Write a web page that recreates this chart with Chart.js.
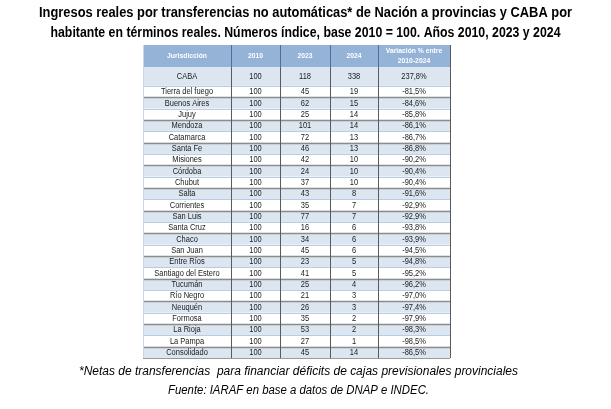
<!DOCTYPE html>
<html>
<head>
<meta charset="utf-8">
<script src="https://cdn.jsdelivr.net/npm/chart.js@4.4.1/dist/chart.umd.min.js"></script>
<style>html,body{margin:0;padding:0;background:#fff}</style>
</head>
<body>
<canvas id="tabla" width="611" height="409"></canvas>
<script>
const jurisdicciones = ['CABA', 'Tierra del fuego', 'Buenos Aires', 'Jujuy', 'Mendoza', 'Catamarca', 'Santa Fe',
    'Misiones', 'Córdoba', 'Chubut', 'Salta', 'Corrientes', 'San Luis', 'Santa Cruz', 'Chaco', 'San Juan',
    'Entre Ríos', 'Santiago del Estero', 'Tucumán', 'Río Negro', 'Neuquén', 'Formosa', 'La Rioja', 'La Pampa',
    'Consolidado'];
const valores2010 = [100, 100, 100, 100, 100, 100, 100, 100, 100, 100, 100, 100, 100, 100, 100, 100, 100, 100,
    100, 100, 100, 100, 100, 100, 100];
const valores2023 = [118, 45, 62, 25, 101, 72, 46, 42, 24, 37, 43, 35, 77, 16, 34, 45, 23, 41, 25, 21, 26, 35, 53, 27, 45];
const valores2024 = [338, 19, 15, 14, 14, 13, 13, 10, 10, 10, 8, 7, 7, 6, 6, 6, 5, 5, 4, 3, 3, 2, 2, 1, 14];
const variacion = [237.8, -81.5, -84.6, -85.8, -86.1, -86.7, -86.8, -90.2, -90.4, -90.4, -91.6, -92.9, -92.9,
    -93.8, -93.9, -94.5, -94.8, -95.2, -96.2, -97.0, -97.4, -97.9, -98.3, -98.5, -86.5];
const encabezados = ['Jurisdicción', '2010', '2023', '2024', ['Variación % entre', '2010-2024']];
const titulo = ['Ingresos reales por transferencias no automáticas* de Nación a provincias y CABA por',
    'habitante en términos reales. Números índice, base 2010 = 100. Años 2010, 2023 y 2024'];
const notas = ['*Netas de transferencias  para financiar déficits de cajas previsionales provinciales',
    'Fuente: IARAF en base a datos de DNAP e INDEC.'];

// table layout: column widths and row heights (in row units)
const anchoColumnas = [88, 49, 50, 48, 72];
const altoEncabezado = 1.95;
const altoCaba = 1.65;
const fuente = '"Liberation Sans", Arial, sans-serif';

const altos = jurisdicciones.map((j, i) => i === 0 ? altoCaba : 1);
const inicioFila = [];
let acum = altoEncabezado;
altos.forEach(h => { inicioFila.push(acum); acum += h; });
const totalAlto = acum;

const inicioCol = [];
let ax = 0;
anchoColumnas.forEach(w => { inicioCol.push(ax); ax += w; });
const totalAncho = ax;

const formatoPct = v => v.toFixed(1).replace('.', ',') + '%';
const columnas = [jurisdicciones, valores2010, valores2023, valores2024, variacion.map(formatoPct)];

// one dataset per column, one point per cell
const datasets = columnas.map((col, c) => ({
    label: Array.isArray(encabezados[c]) ? encabezados[c].join(' ') : encabezados[c],
    data: col.map((v, i) => ({
        x: inicioCol[c] + anchoColumnas[c] / 2,
        y: inicioFila[i] + altos[i] / 2,
        texto: String(v)
    })),
    pointRadius: 0,
    pointHoverRadius: 0
}));

const px = v => Math.round(v) + 0.5;

// narrow text (the original uses Calibri), squeezed horizontally
function textoAngosto(ctx, t, x, y, k) {
    ctx.save();
    ctx.translate(x, y);
    ctx.scale(k, 1);
    ctx.fillText(t, 0, 0);
    ctx.restore();
}

const pluginTabla = {
    id: 'tabla',
    beforeDatasetsDraw(chart) {
        const ctx = chart.ctx;
        const sx = chart.scales.x, sy = chart.scales.y;
        const izq = sx.getPixelForValue(0), der = sx.getPixelForValue(totalAncho);
        const arriba = sy.getPixelForValue(0), finEnc = sy.getPixelForValue(altoEncabezado);
        const abajo = sy.getPixelForValue(totalAlto);
        ctx.save();
        // header band
        ctx.fillStyle = '#95b3d7';
        ctx.fillRect(izq, arriba, der - izq, finEnc - arriba);
        // shaded rows
        jurisdicciones.forEach((j, i) => {
            if (i % 2 === 0) {
                const y0 = sy.getPixelForValue(inicioFila[i]);
                const y1 = sy.getPixelForValue(inicioFila[i] + altos[i]);
                ctx.fillStyle = '#dce6f1';
                ctx.fillRect(izq, y0, der - izq, y1 - y0);
            }
        });
        // horizontal lines
        jurisdicciones.forEach((j, i) => {
            if (i === 0) return;
            const y0 = px(sy.getPixelForValue(inicioFila[i]));
            ctx.strokeStyle = i % 2 === 0 ? '#8c8c8c' : '#b8cce4';
            ctx.lineWidth = i % 2 === 0 ? 1.5 : 1;
            ctx.beginPath();
            ctx.moveTo(izq, y0);
            ctx.lineTo(der, y0);
            ctx.stroke();
        });
        ctx.strokeStyle = '#9a9a9a';
        ctx.lineWidth = 1;
        ctx.beginPath();
        ctx.moveTo(izq, px(abajo));
        ctx.lineTo(der, px(abajo));
        ctx.stroke();
        // vertical lines
        inicioCol.concat([totalAncho]).forEach((c, k) => {
            const xx = px(sx.getPixelForValue(c));
            ctx.strokeStyle = k === 0 ? '#c9d6e6' : '#5a5a5a';
            ctx.beginPath();
            ctx.moveTo(xx, k === 0 || k === anchoColumnas.length ? arriba : finEnc);
            ctx.lineTo(xx, abajo);
            ctx.stroke();
            if (k > 0 && k < anchoColumnas.length) {
                ctx.strokeStyle = '#4f6f95';
                ctx.beginPath();
                ctx.moveTo(xx, arriba);
                ctx.lineTo(xx, finEnc);
                ctx.stroke();
            }
        });
        // header text
        ctx.fillStyle = '#ffffff';
        ctx.font = 'bold 7.5px ' + fuente;
        ctx.textAlign = 'center';
        ctx.textBaseline = 'middle';
        const yEnc = (arriba + finEnc) / 2;
        encabezados.forEach((t, c) => {
            const xx = sx.getPixelForValue(inicioCol[c] + anchoColumnas[c] / 2);
            if (Array.isArray(t)) {
                textoAngosto(ctx, t[0], xx, yEnc - 5, 0.9);
                textoAngosto(ctx, t[1], xx, yEnc + 5, 0.9);
            } else {
                textoAngosto(ctx, t, xx, yEnc, 0.9);
            }
        });
        ctx.restore();
    },
    afterDatasetsDraw(chart) {
        const ctx = chart.ctx;
        ctx.save();
        ctx.fillStyle = '#1a1a1a';
        ctx.font = '8.5px ' + fuente;
        ctx.textAlign = 'center';
        ctx.textBaseline = 'middle';
        chart.data.datasets.forEach((ds, d) => {
            chart.getDatasetMeta(d).data.forEach((pt, i) => {
                textoAngosto(ctx, ds.data[i].texto, pt.x, pt.y + 0.5, 0.88);
            });
        });
        ctx.restore();
    },
    afterDraw(chart) {
        const ctx = chart.ctx;
        const centro = chart.width / 2;
        ctx.save();
        ctx.fillStyle = '#000000';
        ctx.textAlign = 'center';
        ctx.textBaseline = 'middle';
        ctx.font = 'bold 14.5px ' + fuente;
        ctx.fillText(titulo[0], centro, 13, 533);
        ctx.fillText(titulo[1], centro, 33, 510);
        ctx.font = 'italic 12px ' + fuente;
        ctx.fillText(notas[0], centro - 7, 372, 439);
        ctx.fillText(notas[1], centro - 7, 391, 261);
        ctx.restore();
    }
};

new Chart(document.getElementById('tabla'), {
    type: 'scatter',
    data: { datasets: datasets },
    options: {
        responsive: false,
        animation: false,
        events: [],
        layout: { padding: { left: 143, right: 161, top: 45, bottom: 51 } },
        scales: {
            x: { type: 'linear', min: 0, max: totalAncho, display: false },
            y: { type: 'linear', min: 0, max: totalAlto, reverse: true, display: false }
        },
        plugins: {
            legend: { display: false },
            tooltip: { enabled: false },
            title: { display: false }
        }
    },
    plugins: [pluginTabla]
});
</script>
</body>
</html>
